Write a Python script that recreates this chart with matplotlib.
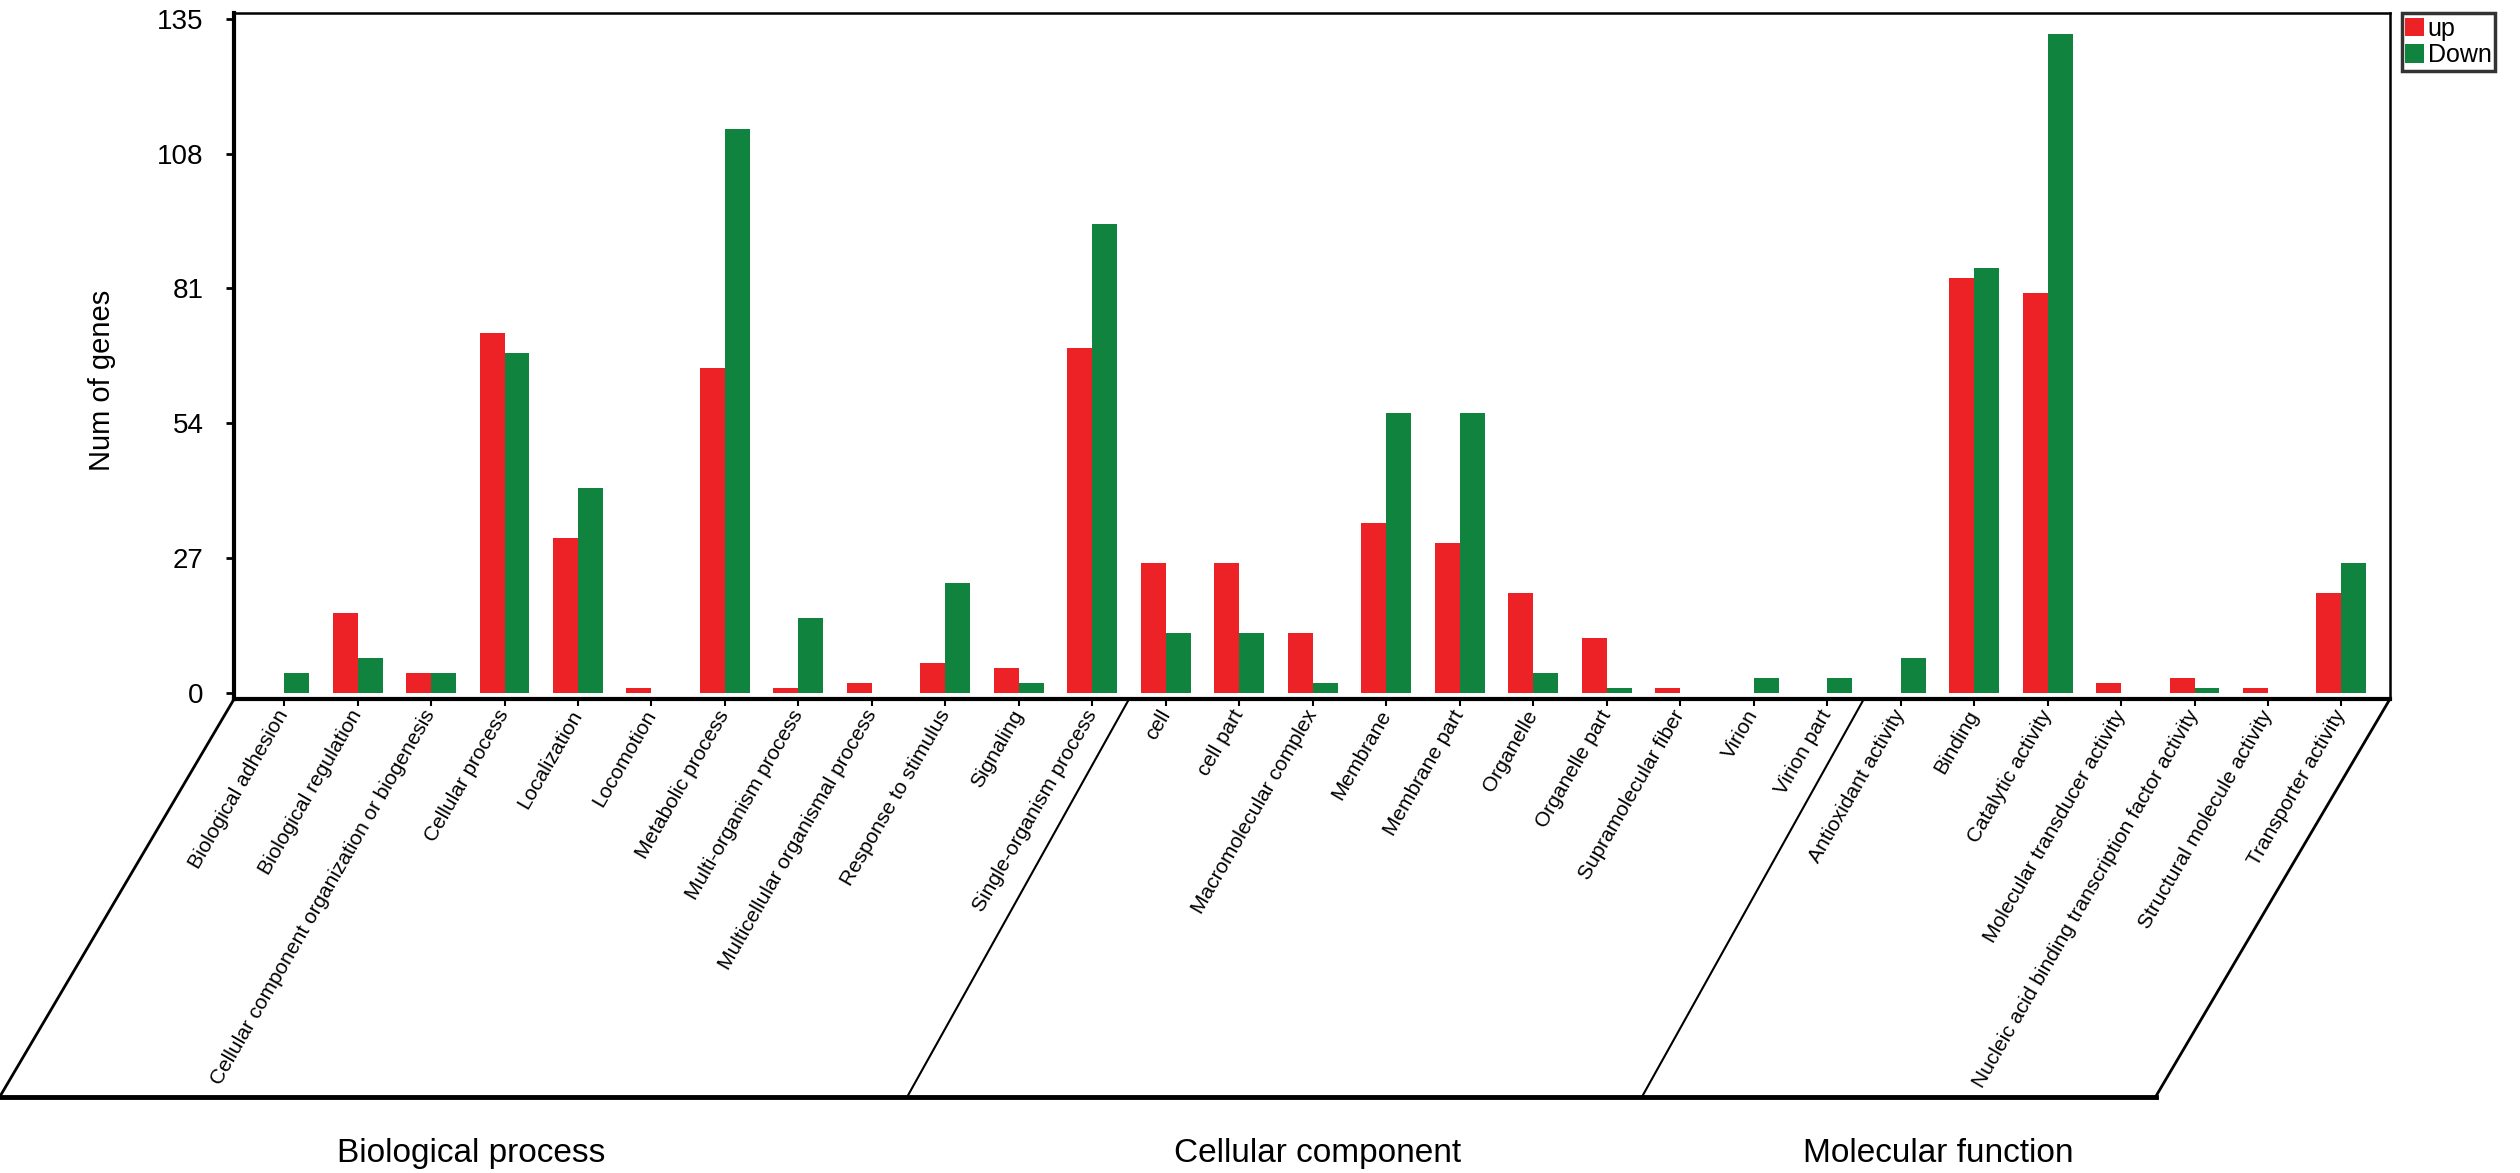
import matplotlib
matplotlib.use('Agg')
import matplotlib.pyplot as plt
import numpy as np

plt.rcParams['font.family'] = ['Liberation Sans', 'DejaVu Sans']

# GO terms, grouped
bp_terms = ['Biological adhesion', 'Biological regulation',
            'Cellular component organization or biogenesis', 'Cellular process',
            'Localization', 'Locomotion', 'Metabolic process', 'Multi-organism process',
            'Multicellular organismal process', 'Response to stimulus', 'Signaling',
            'Single-organism process']
cc_terms = ['cell', 'cell part', 'Macromolecular complex', 'Membrane', 'Membrane part',
            'Organelle', 'Organelle part', 'Supramolecular fiber', 'Virion', 'Virion part']
mf_terms = ['Antioxidant activity', 'Binding', 'Catalytic activity',
            'Molecular transducer activity',
            'Nucleic acid binding transcription factor activity',
            'Structural molecule activity', 'Transporter activity']

bp_up = [0, 16, 4, 72, 31, 1, 65, 1, 2, 6, 5, 69]
bp_down = [4, 7, 4, 68, 41, 0, 113, 15, 0, 22, 2, 94]
cc_up = [26, 26, 12, 34, 30, 20, 11, 1, 0, 0]
cc_down = [12, 12, 2, 56, 56, 4, 1, 0, 3, 3]
mf_up = [0, 83, 80, 2, 3, 1, 20]
mf_down = [7, 85, 132, 0, 1, 0, 26]

group_names = ['Biological process', 'Cellular component', 'Molecular function']
y_ticks = [0, 27, 54, 81, 108, 135]

terms = bp_terms + cc_terms + mf_terms
up = bp_up + cc_up + mf_up
down = bp_down + cc_down + mf_down
x = np.arange(len(terms))

red = '#EC2227'
green = '#10843F'

fig = plt.figure(figsize=(25.2, 11.73), dpi=100)
ax = fig.add_axes([0.0929, 0.4041, 0.8555, 0.5848])

w = 0.34
ax.bar(x - w / 2, up, width=w, color=red, label='up')
ax.bar(x + w / 2, down, width=w, color=green, label='Down')

xmin, xmax = -0.68, 28.66
ax.set_xlim(xmin, xmax)
ax.set_ylim(-1.3, 136.2)
ax.set_yticks(y_ticks)
ax.tick_params(axis='y', labelsize=20, length=6, width=2, pad=16)
ax.set_xticks(x)
ax.set_xticklabels(terms, rotation=60, ha='right', va='center',
                   rotation_mode='anchor', fontsize=15)
ax.tick_params(axis='x', length=5, width=1.5, pad=4)

for s in ['bottom', 'left']:
    ax.spines[s].set_linewidth(3)
for s in ['top', 'right']:
    ax.spines[s].set_linewidth(1.8)

ax.set_ylabel('Num of genes', fontsize=21)
ax.yaxis.set_label_coords(-0.055, 0.464)

# slanted panel below the axis holding the category labels
tr = ax.get_xaxis_transform()
ybot = -0.580
corner_shift = 3.19
div_shift = 3.02
ax.plot([xmin, xmin - corner_shift], [0, ybot], color='black', lw=2, transform=tr, clip_on=False)
ax.plot([xmax, xmax - corner_shift], [0, ybot], color='black', lw=2, transform=tr, clip_on=False)
ax.plot([xmin - corner_shift, xmax - corner_shift], [ybot, ybot], color='black', lw=3.5,
        transform=tr, clip_on=False)
n1 = len(bp_terms)
n2 = len(bp_terms) + len(cc_terms)
for xd in [n1 - 0.5, n2 - 0.5]:
    ax.plot([xd, xd - div_shift], [0, ybot], color='black', lw=1.5, transform=tr, clip_on=False)

for name, gx in zip(group_names, [0.187, 0.523, 0.769]):
    fig.text(gx, 0.017, name, ha='center', va='center', fontsize=24)

leg = fig.legend(loc='upper left', bbox_to_anchor=(0.953, 0.989), borderaxespad=0,
                 fontsize=18, frameon=True, fancybox=False, handlelength=0.75,
                 handleheight=0.75, handletextpad=0.15, borderpad=0.15, labelspacing=0.1)
leg.get_frame().set_edgecolor('black')
leg.get_frame().set_linewidth(2.5)

fig.savefig('out.png', dpi=100)
